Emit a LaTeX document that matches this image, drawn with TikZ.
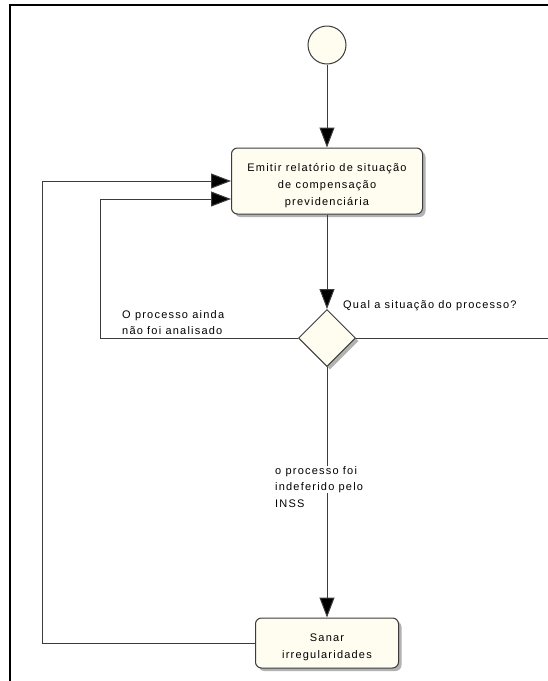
\documentclass[tikz,border=0pt]{standalone}
\usepackage{fontspec}
\setmainfont{Liberation Sans}[LetterSpace=11]
\usetikzlibrary{shapes.geometric,arrows.meta,shadows}
\definecolor{cream}{RGB}{255,252,240}
\definecolor{edge}{RGB}{60,60,60}
\newcommand{\topstrut}{\rule{0pt}{17pt}}
\begin{document}
\begin{tikzpicture}[x=1pt,y=-1pt,
  every node/.style={font=\fontsize{11}{16.8}\selectfont},
  line/.style={draw=edge, line width=1pt},
  arr/.style={line, -{Triangle[length=20pt,width=15pt,fill=black]}},
  shadowed/.style={drop shadow={shadow xshift=3pt,shadow yshift=-3pt,fill=black!30,opacity=1}},
  activity/.style={draw=edge, line width=1pt, fill=cream, rounded corners=6pt, align=center, inner sep=2pt, shadowed},
  decision/.style={shape=diamond, draw=edge, line width=1pt, fill=cream, minimum width=57pt, minimum height=57pt, inner sep=0pt, shadowed},
  startnode/.style={circle, draw=edge, line width=1pt, fill=cream, minimum size=38pt, inner sep=0pt},
  lbl/.style={inner sep=0pt, align=left}
]
\useasboundingbox (0,0) rectangle (548,681);
\fill[white] (0,0) rectangle (548,681);
% frame
\draw[line width=2pt] (10,681) -- (10,5) -- (548,5);

\node[startnode] (start) at (327,45) {};
\node[activity, minimum width=191pt, minimum height=66pt] (emit) at (327,181) {\topstrut Emitir relatório de situação\\de compensação\\previdenciária};
\node[decision] (dec) at (327,338) {};
\node[activity, minimum width=143pt, minimum height=50pt] (sanar) at (327,643) {\topstrut Sanar\\irregularidades};
\coordinate (rightend) at (548,338);

\draw[arr] (start) -- (emit);
\draw[arr] (emit) -- (dec);
\draw[arr] (dec.west) -- ++(-197.5,0) |- ([yshift=-18pt]emit.west);
\draw[arr] (sanar.west) -- ++(-212.5,0) |- (emit.west);
\draw[line] (dec.east) -- (rightend);
\draw[arr] (dec.south) -- (sanar.north);

\node[lbl, anchor=north west] (notyet) at (122,310) {O processo ainda\\não foi analisado};
\node[lbl, anchor=west] (question) at (343,306) {Qual a situação do processo?};
\node[lbl, anchor=north west, fill=white] (denied) at (275,466) {o processo foi\\indeferido pelo};
\node[lbl, anchor=west] (inss) at (275,504) {INSS};
\end{tikzpicture}
\end{document}
